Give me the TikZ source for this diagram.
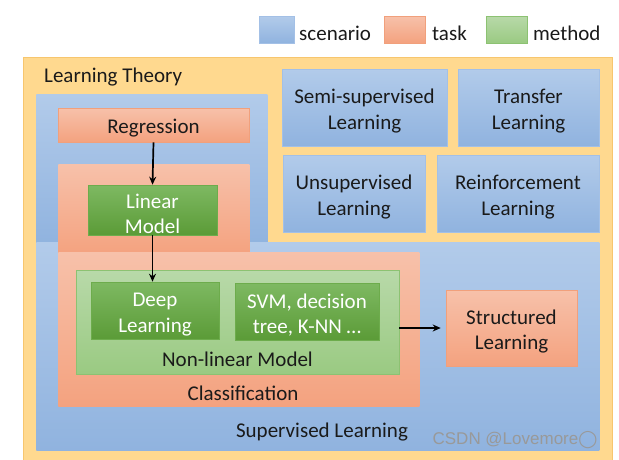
\documentclass[tikz,border=0pt]{standalone}
\usepackage{fontspec}
\setmainfont{Carlito}
\newfontfamily\wmfont{Liberation Sans}
\newfontfamily\symfont{DejaVu Sans}
\usetikzlibrary{arrows.meta,shadows}
\definecolor{ylw}{HTML}{FFD98F}
\definecolor{ylwline}{HTML}{F7C66E}
\definecolor{bluetop}{HTML}{B2CBEA}
\definecolor{bluebot}{HTML}{90B3DF}
\definecolor{blueline}{HTML}{A3C0E6}
\definecolor{orgtop}{HTML}{F7C1AA}
\definecolor{orgbot}{HTML}{F4A27F}
\definecolor{orgline}{HTML}{F1A07C}
\definecolor{dgtop}{HTML}{7EB962}
\definecolor{dgbot}{HTML}{5B9B37}
\definecolor{dgline}{HTML}{6DAC4C}
\definecolor{lgtop}{HTML}{B8D9A9}
\definecolor{lgbot}{HTML}{9ACA82}
\definecolor{lgline}{HTML}{8CC272}
\definecolor{txt}{HTML}{1A1A1A}
\tikzset{
  every node/.style={font=\fontsize{21}{25.5}\selectfont, text=txt, align=center, inner sep=0pt},
  oneline/.style={execute at begin node={\rule{0pt}{21.5pt}}},
  twoline/.style={execute at begin node={\rule{0pt}{47.5pt}}},
  blueshape/.style={draw=blueline, line width=0.6pt, top color=bluetop, bottom color=bluebot},
  orgshape/.style={draw=orgline, line width=0.6pt, top color=orgtop, bottom color=orgbot},
  dgshape/.style={draw=dgline, line width=0.6pt, top color=dgtop, bottom color=dgbot, text=white,
    drop shadow={opacity=0.35, shadow xshift=1pt, shadow yshift=-1pt}},
  lgshape/.style={draw=lgline, line width=0.6pt, top color=lgtop, bottom color=lgbot},
  region/.style={anchor=north west},
  conn/.style={-{Stealth[length=8pt,width=7pt]}, line width=1.7pt, black},
  lbl/.style={anchor=west, oneline},
}
\begin{document}
\begin{tikzpicture}[x=1pt,y=-1pt]
\useasboundingbox (0,0) rectangle (619,459);
% legend
\node[blueshape, minimum width=35pt, minimum height=27pt] (legblue) at (276.5,29.5) {};
\node[lbl] (legbluet) at (299,30) {scenario};
\node[orgshape, minimum width=41pt, minimum height=27pt] (legorg) at (404.5,29.5) {};
\node[lbl] (legorgt) at (432,30) {task};
\node[lgshape, minimum width=41pt, minimum height=27pt] (leggrn) at (506.5,29.5) {};
\node[lbl] (leggrnt) at (533,30) {method};
% learning theory
\node[region, draw=ylwline, line width=0.8pt, fill=ylw, minimum width=589pt, minimum height=405pt] (theory) at (23,57) {};
\node[lbl] (theoryt) at (44,74) {Learning Theory};
% supervised learning region
\node[region, blueshape, draw=none, minimum width=231pt, minimum height=150pt] (sup1) at (36,94) {};
\node[region, blueshape, draw=none, minimum width=563pt, minimum height=208pt] (sup2) at (36,242) {};
\node[oneline] (supt) at (322,429) {Supervised Learning};
% other scenarios
\node[blueshape, twoline, minimum width=165pt, minimum height=77pt] (semi) at (364.5,107.5) {Semi-supervised\\Learning};
\node[blueshape, twoline, minimum width=141pt, minimum height=77pt] (transfer) at (528.5,107.5) {Transfer\\Learning};
\node[blueshape, twoline, minimum width=142pt, minimum height=77pt] (unsup) at (354,193.5) {Unsupervised\\Learning};
\node[blueshape, twoline, minimum width=162pt, minimum height=77pt] (reinf) at (518,193.5) {Reinforcement\\Learning};
% regression
\node[orgshape, oneline, minimum width=191pt, minimum height=34pt] (reg) at (153.5,125) {Regression};
% classification region
\node[region, orgshape, draw=none, minimum width=191pt, minimum height=90pt] (cls1) at (58,164) {};
\node[region, orgshape, draw=none, minimum width=361pt, minimum height=154pt] (cls2) at (58,252) {};
\node[oneline] (clst) at (243,390) {Classification};
% linear model
\node[dgshape, twoline, minimum width=129pt, minimum height=50pt] (lin) at (152.5,210) {Linear\\Model};
% non-linear model
\node[lgshape, minimum width=323pt, minimum height=104pt] (nonlin) at (237.5,322) {};
\node[oneline] (nonlint) at (237.5,356) {Non-linear Model};
\node[dgshape, twoline, minimum width=128pt, minimum height=57pt] (deep) at (155,310.5) {Deep\\Learning};
\node[dgshape, twoline, minimum width=144pt, minimum height=57pt] (svm) at (307,311.5) {SVM, decision\\tree, K-NN \dots};
% structured learning
\node[orgshape, twoline, minimum width=131pt, minimum height=76pt] (struct) at (511.5,328) {Structured\\Learning};
% connectors
\draw[conn] (reg.south) -- (lin.north);
\draw[conn] (lin.south) -- (lin.south |- deep.north);
\draw[conn, shorten >=5pt] (nonlin.east |- struct.west) -- (struct.west);
% watermark
\node[text=black!40, font=\fontsize{17}{20}\selectfont] (wm) at (515,440) {\wmfont CSDN @Lovemore\symfont\char"25EF};
\end{tikzpicture}
\end{document}
